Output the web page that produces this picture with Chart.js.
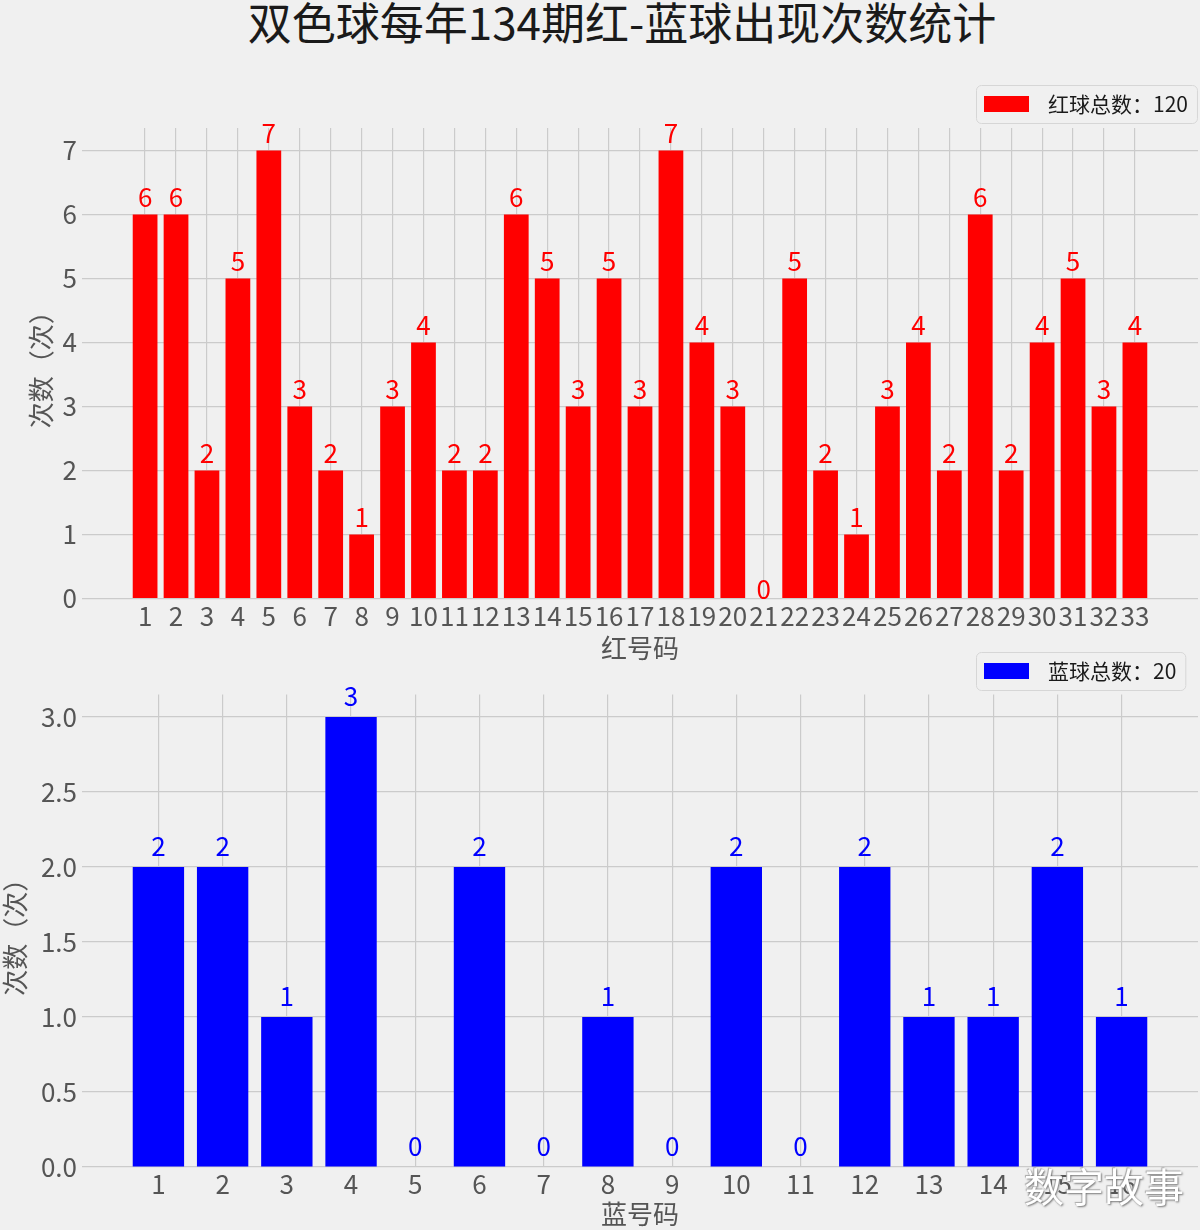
<!DOCTYPE html>
<html>
<head>
<meta charset="utf-8">
<script src="https://cdn.jsdelivr.net/npm/chart.js@4.4.0/dist/chart.umd.min.js"></script>
<style>
  html, body { margin: 0; padding: 0; background: #f0f0f0; }
  body { width: 1200px; height: 1230px; position: relative; overflow: hidden;
         font-family: "Noto Sans CJK SC", "DejaVu Sans", sans-serif; }
  canvas { position: absolute; left: 0; }
  #redChart { top: 0; }
  #blueChart { top: 640px; }
  #title { position: absolute; left: 0; top: -7px; width: 1244px; text-align: center;
           font-size: 44px; line-height: 56px; color: #1a1a1a; }
  #mark { position: absolute; left: 1024px; top: 1160px; font-size: 40px; line-height: 50px;
          color: #ffffff; text-shadow: 1px 1px 2px #777, -1px -1px 1px #aaa; z-index: 5; }
</style>
</head>
<body>
<div id="title">双色球每年134期红-蓝球出现次数统计</div>
<canvas id="redChart" width="1200" height="664"></canvas>
<canvas id="blueChart" width="1200" height="590"></canvas>
<div id="mark">数字故事</div>
<script>
const FONT = '"Noto Sans CJK SC", "DejaVu Sans", sans-serif';

// red balls 1-33, count per ball
const redBalls = [1, 2, 3, 4, 5, 6, 7, 8, 9, 10, 11, 12, 13, 14, 15, 16, 17,
                  18, 19, 20, 21, 22, 23, 24, 25, 26, 27, 28, 29, 30, 31, 32, 33];
const redCounts = [6, 6, 2, 5, 7, 3, 2, 1, 3, 4, 2, 2, 6, 5, 3, 5, 3,
                   7, 4, 3, 0, 5, 2, 1, 3, 4, 2, 6, 2, 4, 5, 3, 4];
const redTicks = [0, 1, 2, 3, 4, 5, 6, 7];

// blue balls 1-16
const blueBalls = [1, 2, 3, 4, 5, 6, 7, 8, 9, 10, 11, 12, 13, 14, 15, 16];
const blueCounts = [2, 2, 1, 3, 0, 2, 0, 1, 0, 2, 0, 2, 1, 1, 2, 1];
const blueTicks = [0, 0.5, 1.0, 1.5, 2.0, 2.5, 3.0];

const sum = arr => arr.reduce((a, b) => a + b, 0);

// numbers on top of the bars
const valueLabels = {
    id: 'valueLabels',
    afterDatasetsDraw(chart, args, opts) {
        const ctx = chart.ctx;
        const ds = chart.data.datasets[0];
        const meta = chart.getDatasetMeta(0);
        ctx.save();
        ctx.font = '26px ' + FONT;
        ctx.fillStyle = opts.color;
        ctx.textAlign = 'center';
        ctx.textBaseline = 'alphabetic';
        meta.data.forEach((bar, i) => {
            const v = ds.data[i].y;
            const lift = v > 0 ? opts.lift : opts.zeroLift;
            ctx.fillText(String(v), bar.x, bar.y - lift);
        });
        ctx.restore();
    }
};

// matplotlib-like framed legend
const boxLegend = {
    id: 'boxLegend',
    afterDraw(chart, args, opts) {
        const ctx = chart.ctx;
        const ds = chart.data.datasets[0];
        ctx.save();
        ctx.font = '21px ' + FONT;
        const tw = ctx.measureText(ds.label).width;
        const x = opts.x, y = opts.y, w = 72 + tw + 9, h = 38;
        ctx.beginPath();
        ctx.roundRect(x + 0.5, y + 0.5, w, h, 5);
        ctx.fillStyle = 'rgba(240,240,240,0.8)';
        ctx.fill();
        ctx.strokeStyle = '#d6d6d6';
        ctx.lineWidth = 1;
        ctx.stroke();
        ctx.fillStyle = ds.backgroundColor;
        ctx.fillRect(x + 8, y + 11, 45, 16);
        ctx.fillStyle = '#1a1a1a';
        ctx.textBaseline = 'middle';
        ctx.fillText(ds.label, x + 72, y + 19);
        ctx.restore();
    }
};

function makeChart(id, cfg) {
    const gridOpts = { color: '#cbcbcb', lineWidth: 1.2, drawTicks: false, offset: false };
    const tickFont = { family: FONT, size: 26 };
    // eslint-disable-next-line no-undef
    return new Chart(document.getElementById(id), {
        type: 'bar',
        data: {
            datasets: [{
                label: cfg.label,
                data: cfg.balls.map((b, i) => ({ x: b, y: cfg.counts[i] })),
                backgroundColor: cfg.color,
                categoryPercentage: 1,
                barPercentage: 0.8
            }]
        },
        options: {
            responsive: false,
            animation: false,
            layout: { padding: { top: cfg.padTop, left: 0, right: 2, bottom: 0 } },
            scales: {
                x: {
                    type: 'linear',
                    min: cfg.xMin,
                    max: cfg.xMax,
                    offset: false,
                    afterBuildTicks: s => { s.ticks = cfg.balls.map(v => ({ value: v })); },
                    afterFit: s => { s.height = cfg.xHeight; },
                    grid: gridOpts,
                    border: { display: false },
                    ticks: { color: '#555555', font: tickFont, padding: 2, maxRotation: 0,
                             autoSkip: false, callback: v => String(v) },
                    title: { display: true, text: cfg.xTitle, color: '#555555',
                             font: tickFont, padding: 0 }
                },
                y: {
                    type: 'linear',
                    min: 0,
                    max: cfg.yMax,
                    afterBuildTicks: s => { s.ticks = cfg.yTicks.map(v => ({ value: v })); },
                    afterFit: s => { s.width = 82; },
                    grid: gridOpts,
                    border: { display: false },
                    ticks: { color: '#555555', font: tickFont, padding: 5, callback: cfg.fmt },
                    title: { display: true, text: '次数（次）', color: '#555555',
                             font: tickFont, padding: { top: cfg.yTitlePad, bottom: 0 } }
                }
            },
            plugins: {
                legend: { display: false },
                tooltip: { enabled: false },
                valueLabels: { color: cfg.color, lift: cfg.lift, zeroLift: cfg.zeroLift },
                boxLegend: { x: 976, y: cfg.legendY }
            }
        },
        plugins: [valueLabels, boxLegend]
    });
}

makeChart('redChart', {
    label: '红球总数：' + sum(redCounts),
    balls: redBalls,
    counts: redCounts,
    color: '#ff0000',
    xMin: -1.04, xMax: 35.04,
    yMax: 7.35,
    yTicks: redTicks,
    fmt: v => String(v),
    padTop: 128,
    xHeight: 65.5,
    xTitle: '红号码',
    yTitlePad: 26,
    lift: 7,
    zeroLift: 0,
    legendY: 85
});

makeChart('blueChart', {
    label: '蓝球总数：' + sum(blueCounts),
    balls: blueBalls,
    counts: blueCounts,
    color: '#0000ff',
    xMin: 0.6 - 0.79, xMax: 16.4 + 0.79,
    yMax: 3.15,
    yTicks: blueTicks,
    fmt: v => v.toFixed(1),
    padTop: 54.5,
    xHeight: 63,
    xTitle: '蓝号码',
    yTitlePad: 0,
    lift: 11,
    zeroLift: 11,
    legendY: 12
});
</script>
</body>
</html>
